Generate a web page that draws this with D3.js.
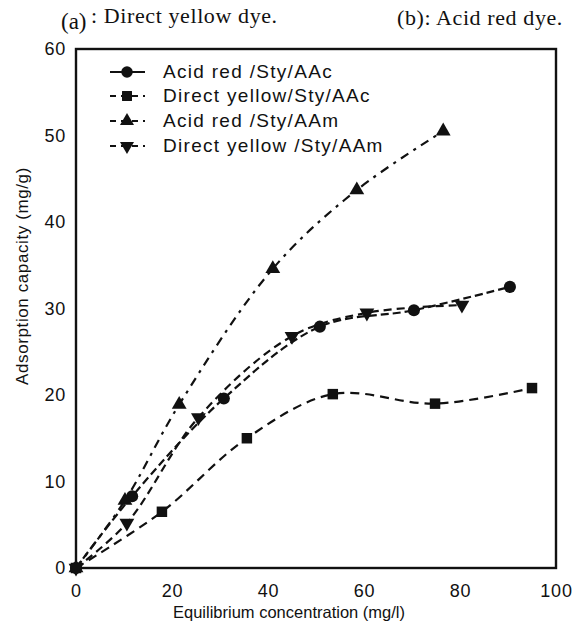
<!DOCTYPE html>
<html><head><meta charset="utf-8">
<script src="https://cdn.jsdelivr.net/npm/d3@7"></script>
<style>
body{margin:0;background:#fff;}
svg text{fill:#111;}
</style></head>
<body>
<svg id="chart" width="576" height="641"></svg>
<script>
// ---- data ----
const seriesNames = ["Acid red /Sty/AAc", "Direct yellow/Sty/AAc", "Acid red /Sty/AAm", "Direct yellow /Sty/AAm"];
const acidRedAAcX = [0, 11.7, 30.8, 50.8, 70.4, 90.4];
const acidRedAAcY = [0, 8.3, 19.6, 27.9, 29.8, 32.5];
const directYellowAAcX = [0, 17.9, 35.6, 53.5, 74.8, 95];
const directYellowAAcY = [0, 6.5, 15.0, 20.1, 19.0, 20.8];
const acidRedAAmX = [0, 10.2, 21.5, 41, 58.5, 76.5];
const acidRedAAmY = [0, 7.8, 18.9, 34.6, 43.7, 50.5];
const directYellowAAmX = [0, 10.6, 25.5, 45, 60.6, 80.4];
const directYellowAAmY = [0, 5.2, 17.4, 26.8, 29.5, 30.4];
const xTicks = [0, 20, 40, 60, 80, 100];
const yTicks = [0, 10, 20, 30, 40, 50, 60];

const svg = d3.select("#chart");
const m = {left: 76, right: 20, top: 49, bottom: 73};
const W = 576, H = 641;
const x = d3.scaleLinear().domain([0, 100]).range([m.left, W - m.right]);
const y = d3.scaleLinear().domain([0, 60]).range([H - m.bottom, m.top]);
const SANS = "Liberation Sans, Arial, sans-serif";

// frame
svg.append("rect")
  .attr("x", x(0)).attr("y", y(60))
  .attr("width", x(100) - x(0)).attr("height", y(0) - y(60))
  .attr("fill", "none").attr("stroke", "#111").attr("stroke-width", 2.4);

// axes (labels only, no tick marks)
const xAxis = d3.axisBottom(x).tickValues(xTicks).tickSize(0).tickPadding(16);
const gx = svg.append("g").attr("transform", `translate(0,${y(0)})`).call(xAxis);
gx.select(".domain").remove();
gx.selectAll("text").attr("font-family", SANS).attr("font-size", 18).attr("letter-spacing", 0.8).style("fill", "#111");

const yAxis = d3.axisLeft(y).tickValues(yTicks).tickSize(0).tickPadding(10);
const gy = svg.append("g").attr("transform", `translate(${x(0)},0)`).call(yAxis);
gy.select(".domain").remove();
gy.selectAll("text").attr("font-family", SANS).attr("font-size", 18).attr("letter-spacing", 0.8).style("fill", "#111");

// axis titles
svg.append("text").attr("x", 289).attr("y", 618).attr("text-anchor", "middle")
  .attr("font-family", SANS).attr("font-size", 16.5)
  .text("Equilibrium concentration (mg/l)");
svg.append("text").attr("transform", "translate(28,276) rotate(-90)").attr("text-anchor", "middle")
  .attr("font-family", SANS).attr("font-size", 17).attr("letter-spacing", 0.6)
  .text("Adsorption capacity (mg/g)");

// top titles
svg.append("text").attr("x", 61).attr("y", 29).attr("font-family", "Liberation Serif, serif").attr("font-size", 23).text("(a)");
svg.append("text").attr("x", 91).attr("y", 23).attr("font-family", "Liberation Serif, serif").attr("font-size", 22).attr("letter-spacing", 0.6).text(": Direct yellow dye.");
svg.append("text").attr("x", 397).attr("y", 25).attr("font-family", "Liberation Serif, serif").attr("font-size", 22).attr("letter-spacing", 0.6).text("(b): Acid red dye.");

// series
const series = [
  {name: seriesNames[0], xs: acidRedAAcX, ys: acidRedAAcY, sym: d3.symbolCircle, size: 115, rot: 0, dash: "8,4"},
  {name: seriesNames[1], xs: directYellowAAcX, ys: directYellowAAcY, sym: d3.symbolSquare, size: 110, rot: 0, dash: "9,6"},
  {name: seriesNames[2], xs: acidRedAAmX, ys: acidRedAAmY, sym: d3.symbolTriangle, size: 95, rot: 0, dash: "9,6,3,6"},
  {name: seriesNames[3], xs: directYellowAAmX, ys: directYellowAAmY, sym: d3.symbolTriangle, size: 95, rot: 180, dash: "8,5"}
];

const line = d3.line().x(d => x(d[0])).y(d => y(d[1])).curve(d3.curveCatmullRom.alpha(0.5));

series.forEach(s => {
  const pts = s.xs.map((v, i) => [v, s.ys[i]]);
  svg.append("path").attr("d", line(pts)).attr("fill", "none")
    .attr("stroke", "#111").attr("stroke-width", 2.2).attr("stroke-dasharray", s.dash);
  svg.selectAll(null).data(pts).enter().append("path")
    .attr("d", d3.symbol().type(s.sym).size(s.size))
    .attr("transform", d => `translate(${x(d[0])},${y(d[1])}) rotate(${s.rot})`)
    .attr("fill", "#111");
});

// legend
const legY = [72, 96, 121, 146];
const lg = svg.append("g");
series.forEach((s, i) => {
  const yy = legY[i];
  lg.append("line").attr("x1", 110).attr("x2", 145).attr("y1", yy).attr("y2", yy)
    .attr("stroke", "#111").attr("stroke-width", 2.2)
    .attr("stroke-dasharray", i === 0 ? null : "6,5");
  lg.append("path").attr("d", d3.symbol().type(s.sym).size(s.size * 0.9))
    .attr("transform", `translate(127,${yy}) rotate(${s.rot})`).attr("fill", "#111");
  lg.append("text").attr("x", 163).attr("y", yy + 6)
    .attr("font-family", SANS).attr("font-size", 19).attr("letter-spacing", 1.3)
    .text(s.name);
});
</script>
</body></html>
